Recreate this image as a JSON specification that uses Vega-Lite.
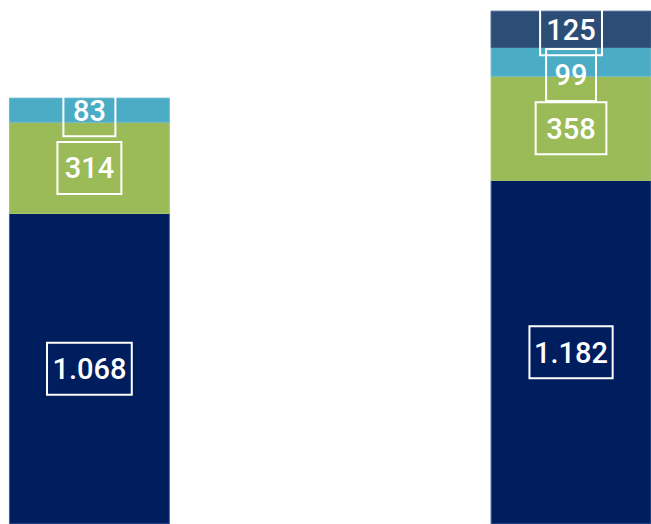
{
  "$schema": "https://vega.github.io/schema/vega-lite/v6.json",
  "width": 651,
  "height": 524,
  "autosize": {"type": "none"},
  "padding": 0,
  "background": "white",
  "config": {
    "view": {"stroke": null},
    "locale": {"number": {"decimal": ",", "thousands": ".", "grouping": [3], "currency": ["", " €"]}}
  },
  "data": {
    "values": [
      {"cat": "A", "series": "s1", "order": 1, "value": 1068},
      {"cat": "A", "series": "s2", "order": 2, "value": 314},
      {"cat": "A", "series": "s3", "order": 3, "value": 83},
      {"cat": "B", "series": "s1", "order": 1, "value": 1182},
      {"cat": "B", "series": "s2", "order": 2, "value": 358},
      {"cat": "B", "series": "s3", "order": 3, "value": 99},
      {"cat": "B", "series": "s4", "order": 4, "value": 125}
    ]
  },
  "transform": [
    {"stack": "value", "groupby": ["cat"], "sort": [{"field": "order", "order": "ascending"}], "as": ["y0", "y1"]},
    {"calculate": "(datum.y0 + datum.y1) / 2", "as": "ymid"}
  ],
  "encoding": {
    "x": {
      "field": "cat", "type": "nominal", "axis": null,
      "scale": {"paddingInner": 0.668, "paddingOuter": 0.0098, "align": 1}
    }
  },
  "layer": [
    {
      "mark": {"type": "bar", "strokeWidth": 1},
      "encoding": {
        "y": {"field": "y0", "type": "quantitative", "axis": null, "scale": {"domain": [0, 1802.5], "nice": false, "zero": true}},
        "y2": {"field": "y1"},
        "color": {
          "field": "series", "type": "nominal", "legend": null,
          "scale": {"domain": ["s1", "s2", "s3", "s4"], "range": ["#001d5e", "#9bbb59", "#4bacc6", "#2c4d76"]}
        },
        "stroke": {
          "field": "series", "type": "nominal", "legend": null,
          "scale": {"domain": ["s1", "s2", "s3", "s4"], "range": ["#3a62a6", "#a9c46f", "#6cbcd0", "#3e5e88"]}
        }
      }
    },
    {
      "transform": [{"filter": "datum.value != 99"}],
      "mark": {"type": "point", "filled": false, "stroke": "white", "strokeWidth": 2, "opacity": 1, "size": 2704},
      "encoding": {
        "y": {"field": "ymid", "type": "quantitative"},
        "shape": {
          "field": "value", "type": "nominal", "legend": null,
          "scale": {
            "domain": [1068, 314, 83, 1182, 358, 99, 125],
            "range": [
              "M-1.63,-1H1.63V1H-1.63Z",
              "M-1.23,-1H1.23V1H-1.23Z",
              "M-1,-1H1V1H-1Z",
              "M-1.6,-1H1.6V1H-1.6Z",
              "M-1.36,-1H1.36V1H-1.36Z",
              "M-0.96,-1H0.96V1H-0.96Z",
              "M-1.19,-1H1.19V1H-1.19Z"
            ]
          }
        }
      }
    },
    {
      "transform": [{"filter": "datum.value == 99"}],
      "mark": {"type": "point", "filled": false, "stroke": "white", "strokeWidth": 2, "opacity": 1, "size": 2704, "yOffset": 13},
      "encoding": {
        "y": {"field": "ymid", "type": "quantitative"},
        "shape": {"field": "value", "type": "nominal", "legend": null}
      }
    },
    {
      "transform": [{"filter": "datum.value != 99"}],
      "mark": {"type": "text", "font": "Roboto", "fontSize": 29, "fontWeight": 500, "color": "white", "align": "center", "baseline": "middle", "dy": 1.5},
      "encoding": {
        "y": {"field": "ymid", "type": "quantitative"},
        "text": {"field": "value", "type": "quantitative", "format": ",d"}
      }
    },
    {
      "transform": [{"filter": "datum.value == 99"}],
      "mark": {"type": "text", "font": "Roboto", "fontSize": 29, "fontWeight": 500, "color": "white", "align": "center", "baseline": "middle", "dy": 1.5, "yOffset": 13},
      "encoding": {
        "y": {"field": "ymid", "type": "quantitative"},
        "text": {"field": "value", "type": "quantitative", "format": ",d"}
      }
    }
  ]
}
